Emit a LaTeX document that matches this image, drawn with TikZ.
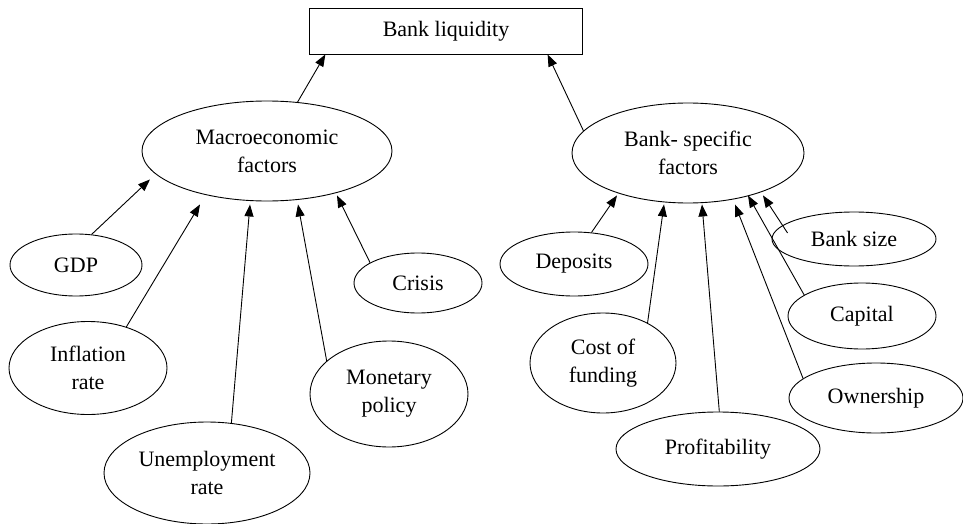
\documentclass[tikz,border=0pt]{standalone}
\usepackage{fontspec}
\setmainfont{Liberation Serif}
\usetikzlibrary{shapes.geometric,arrows.meta,calc}

\tikzset{
    factor/.style={draw, ellipse, line width=0.9pt, inner sep=0pt, align=center},
    link/.style={-{Triangle[length=12pt,width=9pt]}, line width=0.9pt}
}

\begin{document}
\begin{tikzpicture}[x=1pt,y=-1pt,font=\fontsize{22}{28}\selectfont]
    \useasboundingbox (0,0) rectangle (963,524);

    % Top box
    \node[draw, line width=0.9pt, minimum width=273pt, minimum height=46pt] (liquidity) at (446,31) {Bank liquidity};

    % Two groups of factors
    \node[factor, minimum width=250pt, minimum height=100pt] (macro) at (267,151) {Macroeconomic\\factors};
    \node[factor, minimum width=232pt, minimum height=100pt] (bspec) at (688,153) {Bank- specific\\factors};

    % Macroeconomic factors
    \node[factor, minimum width=132pt, minimum height=62pt] (gdp) at (76,265) {GDP};
    \node[factor, minimum width=158pt, minimum height=93pt] (infl) at (88,368) {Inflation\\rate};
    \node[factor, minimum width=206pt, minimum height=102pt] (unemp) at (207,473) {Unemployment\\rate};
    \node[factor, minimum width=158pt, minimum height=106pt] (monet) at (389,394) {Monetary\\policy};
    \node[factor, minimum width=128pt, minimum height=60pt] (crisis) at (418,283) {Crisis};

    % Bank-specific factors
    \node[factor, minimum width=148pt, minimum height=64pt] (depos) at (574,264) {Deposits};
    \node[factor, minimum width=146pt, minimum height=100pt] (cost) at (603,363) {Cost of\\funding};
    \node[factor, minimum width=204pt, minimum height=74pt] (profit) at (718,449) {Profitability};
    \node[factor, minimum width=174pt, minimum height=70pt] (owner) at (876,398) {Ownership};
    \node[factor, minimum width=148pt, minimum height=66pt] (capital) at (862,316) {Capital};
    \node[factor, minimum width=164pt, minimum height=54pt] (bsize) at (854,239) {Bank size};

    % Arrows to the top box
    \draw[link] (macro.58) -- (liquidity.191.7);
    \draw[link] (bspec.168.3) -- (liquidity.347.1);

    % Arrows to macroeconomic factors
    \draw[link] (gdp.63) -- ($(macro.south)+(-117,-22)$);
    \draw[link] (infl.47) -- ($(macro.south)+(-67,3)$);
    \draw[link] (unemp.64) -- ($(macro.south)+(-17,3)$);
    \draw[link] (monet.152.7) -- ($(macro.south)+(31,3)$);
    \draw[link] (crisis.157) -- ($(macro.south)+(70,-6)$);

    % Arrows to bank-specific factors
    \draw[link] (depos.61) -- ($(bspec.south)+(-71,-8)$);
    \draw[link] (cost.42) -- ($(bspec.south)+(-24,1)$);
    \draw[link] (profit.88) -- ($(bspec.south)+(14,1)$);
    \draw[link] (owner.165) -- ($(bspec.south)+(47,1)$);
    \draw[link] (capital.160) -- ($(bspec.south)+(60,-8)$);
    \draw[link] ($(bsize.west)+(16,-6)$) -- ($(bspec.south)+(75,-8)$);
\end{tikzpicture}
\end{document}
